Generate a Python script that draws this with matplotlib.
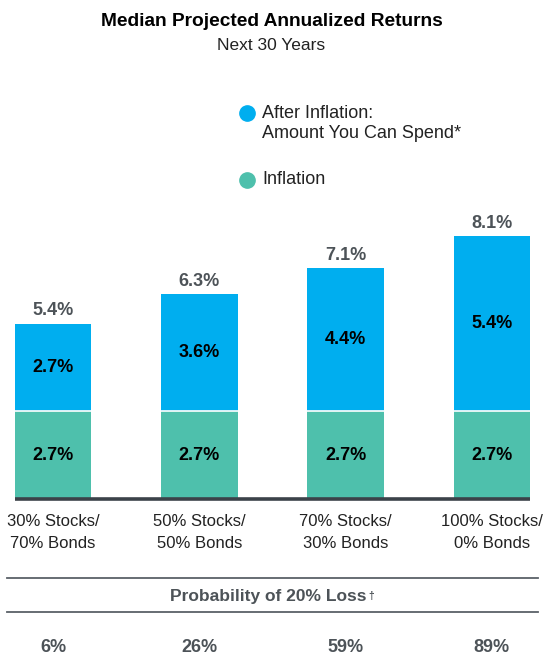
import matplotlib
matplotlib.use("Agg")
import matplotlib.pyplot as plt

plt.rcParams['font.family'] = ['Liberation Sans', 'DejaVu Sans']

# chart data
portfolios = ['30% Stocks/\n70% Bonds', '50% Stocks/\n50% Bonds',
              '70% Stocks/\n30% Bonds', '100% Stocks/\n0% Bonds']
inflation = [2.7, 2.7, 2.7, 2.7]
after_inflation = [2.7, 3.6, 4.4, 5.4]
totals = [5.4, 6.3, 7.1, 8.1]
loss_prob = ['6%', '26%', '59%', '89%']

blue = '#00AEEF'
green = '#4EC0AC'
dark = '#3B4249'
gray_txt = '#4D5358'

W, H = 543, 656
fig = plt.figure(figsize=(W / 100, H / 100), dpi=100)

# bar axes: baseline at y=499px (from top), ~32.5 px per percent
ax = fig.add_axes([0, (H - 499) / H, 1, 325 / H])
x = list(range(len(portfolios)))
width = 0.525
ax.set_xlim(-0.362, 3.349)
ax.set_ylim(0, 10)
ax.axis('off')

b1 = ax.bar(x, inflation, width, color=green, linewidth=0)
b2 = ax.bar(x, after_inflation, width, bottom=inflation, color=blue, linewidth=0)
for xi, lo in zip(x, inflation):
    ax.plot([xi - width / 2, xi + width / 2], [lo, lo], color='white', lw=1.2)
ax.plot([x[0] - width / 2, x[-1] + width / 2], [0, 0], color=dark, lw=2.6,
        solid_capstyle='butt', clip_on=False)

ax.bar_label(b1, labels=[f'{v:.1f}%' for v in inflation], label_type='center',
             fontsize=13, fontweight='bold', color='black')
ax.bar_label(b2, labels=[f'{v:.1f}%' for v in after_inflation], label_type='center',
             fontsize=13, fontweight='bold', color='black')
for xi, lo, hi, t in zip(x, inflation, after_inflation, totals):
    ax.annotate(f'{t:.1f}%', (xi, lo + hi), xytext=(0, 3), textcoords='offset points',
                ha='center', va='bottom', fontsize=13, fontweight='bold', color=gray_txt)

# overlay in pixel coordinates for the text layout
ov = fig.add_axes([0, 0, 1, 1])
ov.set_xlim(0, W)
ov.set_ylim(H, 0)
ov.axis('off')

ov.text(W / 2, 22, 'Median Projected Annualized Returns', ha='center', va='center',
        fontsize=13.8, fontweight='bold', color='black')
ov.text(W / 2, 45, 'Next 30 Years', ha='center', va='center', fontsize=12.5, color='#222222')

# legend
ov.plot([247], [113], 'o', ms=11, color=blue)
ov.text(262, 113, 'After Inflation:', ha='left', va='center', fontsize=13, color='#222222')
ov.text(262, 133, 'Amount You Can Spend*', ha='left', va='center', fontsize=13, color='#222222')
ov.plot([247], [180], 'o', ms=11, color=green)
ov.text(262, 180, 'Inflation', ha='left', va='center', fontsize=13, color='#222222')

# category labels and loss probabilities under each bar
to_px = lambda xi: ax.transData.transform((xi, 0))[0] * 100 / fig.dpi
for xi, lab, p in zip(x, portfolios, loss_prob):
    cx = to_px(xi)
    top, bottom = lab.split('\n')
    ov.text(cx, 521, top, ha='center', va='center', fontsize=12, color='#222222')
    ov.text(cx, 543, bottom, ha='center', va='center', fontsize=12, color='#222222')
    ov.text(cx, 648, p, ha='center', va='center', fontsize=13, fontweight='bold', color=gray_txt)

ov.plot([7, 538], [578, 578], color='#5A6168', lw=1.3)
ov.plot([7, 538], [612, 612], color='#5A6168', lw=1.3)
t = ov.text(W / 2 - 3, 597, 'Probability of 20% Loss', ha='center', va='center',
            fontsize=12.5, fontweight='bold', color=gray_txt)
ov.annotate('\u2020', xy=(1, 1), xycoords=t, xytext=(1, -1), textcoords='offset points',
            ha='left', va='top', fontsize=7.5, fontweight='bold', color=gray_txt)

fig.savefig('out.png', dpi=100)
